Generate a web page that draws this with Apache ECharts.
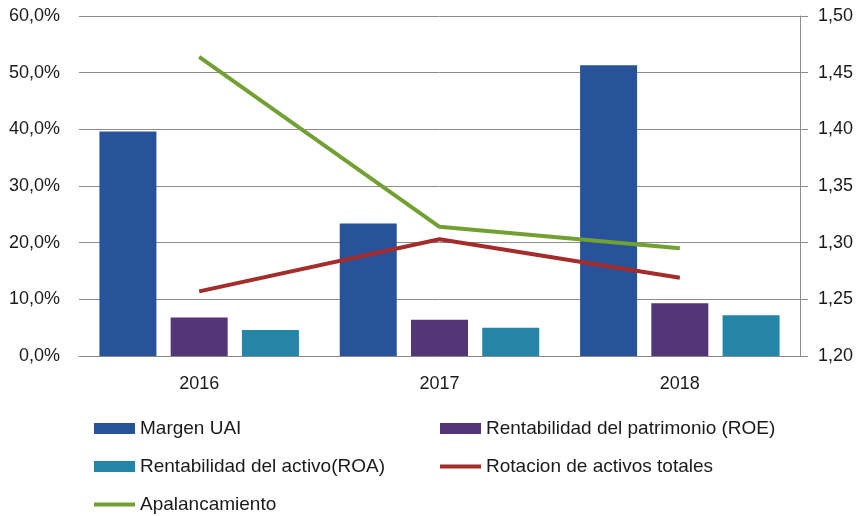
<!DOCTYPE html>
<html>
<head>
<meta charset="utf-8">
<script src="https://cdn.jsdelivr.net/npm/echarts@6/dist/echarts.min.js"></script>
<style>
  html, body { margin: 0; padding: 0; background: #fff; }
  #main { width: 866px; height: 516px; }
</style>
</head>
<body>
<div id="main"></div>
<script>
var years = ['2016', '2017', '2018'];
var margenUAI = [39.6, 23.4, 51.3];
var roe = [6.8, 6.4, 9.3];
var roa = [4.6, 5.0, 7.2];
var rotacion = [1.257, 1.303, 1.269];
var apalancamiento = [1.464, 1.314, 1.295];

var chart = echarts.init(document.getElementById('main'));
var font = 'Liberation Sans';
var legendText = { fontFamily: font, fontSize: 19, color: '#1a1a1a' };

// one legend per item so each one sits where the reference has it
function legendItem(name, left, top, h) {
    return {
        left: left, top: top, padding: 0, orient: 'vertical',
        itemWidth: 41, itemHeight: h, itemGap: 0,
        icon: 'rect', textStyle: legendText, data: [name]
    };
}

var option = {
    animation: false,
    textStyle: { fontFamily: font },
    grid: { left: 79, right: 66, top: 16, bottom: 160 },
    legend: [
        legendItem('Margen UAI', 94, 419, 11),
        legendItem('Rentabilidad del patrimonio (ROE)', 440, 419, 11),
        legendItem('Rentabilidad del activo(ROA)', 94, 457, 11),
        legendItem('Rotacion de activos totales', 440, 457, 4),
        legendItem('Apalancamiento', 94, 495, 4)
    ],
    xAxis: {
        type: 'category',
        data: years,
        axisLine: { lineStyle: { color: '#888888', width: 1 } },
        axisTick: { show: false },
        axisLabel: { color: '#1a1a1a', fontSize: 18, margin: 19, fontFamily: font }
    },
    yAxis: [
        {
            type: 'value', min: 0, max: 60, interval: 10,
            axisLine: { show: false },
            axisTick: { show: false },
            splitLine: { lineStyle: { color: '#8c8c8c', width: 1 } },
            axisLabel: {
                color: '#1a1a1a', fontSize: 18, margin: 19, fontFamily: font,
                formatter: function (v) { return v.toFixed(1).replace('.', ',') + '%'; }
            }
        },
        {
            type: 'value', min: 1.2, max: 1.5, interval: 0.05,
            axisLine: { show: true, lineStyle: { color: '#8c8c8c', width: 1 } },
            axisTick: { show: true, inside: false, length: 8, lineStyle: { color: '#8c8c8c' } },
            splitLine: { show: false },
            axisLabel: {
                color: '#1a1a1a', fontSize: 18, margin: 18, fontFamily: font,
                formatter: function (v) { return v.toFixed(2).replace('.', ','); }
            }
        }
    ],
    series: [
        {
            name: 'Margen UAI', type: 'bar', data: margenUAI,
            barWidth: 57, barGap: '25%',
            itemStyle: { color: '#285299' }
        },
        {
            name: 'Rentabilidad del patrimonio (ROE)', type: 'bar', data: roe,
            barWidth: 57, barGap: '25%',
            itemStyle: { color: '#523676' }
        },
        {
            name: 'Rentabilidad del activo(ROA)', type: 'bar', data: roa,
            barWidth: 57, barGap: '25%',
            itemStyle: { color: '#2585A7' }
        },
        {
            name: 'Rotacion de activos totales', type: 'line', yAxisIndex: 1, data: rotacion,
            symbol: 'none', lineStyle: { color: '#A42C2B', width: 4 }, itemStyle: { color: '#A42C2B' }
        },
        {
            name: 'Apalancamiento', type: 'line', yAxisIndex: 1, data: apalancamiento,
            symbol: 'none', lineStyle: { color: '#72A033', width: 4 }, itemStyle: { color: '#72A033' }
        }
    ]
};
chart.setOption(option);
</script>
</body>
</html>
